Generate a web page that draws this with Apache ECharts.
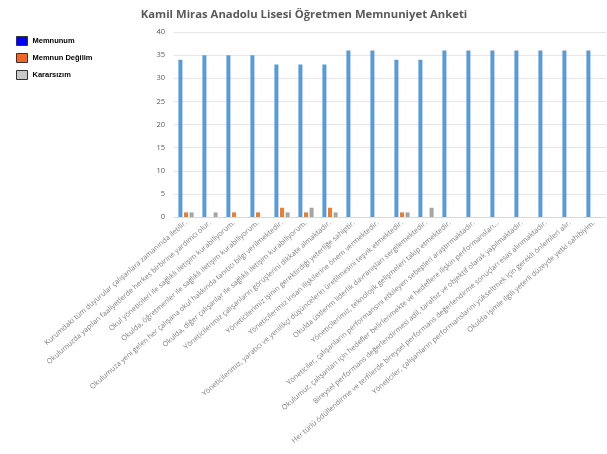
<!DOCTYPE html>
<html>
<head>
<meta charset="utf-8">
<script src="https://cdn.jsdelivr.net/npm/echarts@6/dist/echarts.min.js"></script>
<style>
html,body{margin:0;padding:0;background:#fff;}
#c{width:607px;height:454px;}
</style>
</head>
<body>
<div id="c"></div>
<script>
var categories = [
  "Kurumdaki tüm duyurular çalışanlara zamanında iletilir.",
  "Okulumuzda yapılan faaliyetlerde herkes birbirine yardımcı olur.",
  "Okul yöneticileri ile sağlıklı iletişim kurabiliyorum.",
  "Okulda, öğretmenler ile sağlıklı iletişim kurabiliyorum.",
  "Okulumuza yeni gelen her çalışana okul hakkında tanıtıcı bilgi verilmektedir.",
  "Okulda, diğer çalışanlar ile sağlıklı iletişim kurabiliyorum.",
  "Yöneticilerimiz çalışanların görüşlerini dikkate almaktadır.",
  "Yöneticilerimiz işinin gerektirdiği yeterliğe sahiptir.",
  "Yöneticilerimiz insan ilişkilerine önem vermektedir.",
  "Yöneticilerimiz, yaratıcı ve yenilikçi düşüncelerin üretilmesini teşvik etmektedir.",
  "Okulda üstlerim liderlik davranışları sergilemektedir.",
  "Yöneticilerimiz, teknolojik gelişmeleri takip etmektedir.",
  "Yöneticiler, çalışanların performansını etkileyen sebepleri araştırmaktadır.",
  "Okulumuz, çalışanları için hedefler belirlenmekte ve hedeflere ilişkin performansları...",
  "Bireysel performans değerlendirmesi adil, tarafsız ve objektif olarak yapılmaktadır.",
  "Her türlü ödüllendirme ve terfilerde bireysel performans değerlendirme sonuçları esas alınmaktadır.",
  "Yöneticiler, çalışanların performanslarını yükseltmek için gerekli önlemleri alır.",
  "Okulda işimle ilgili yeterli düzeyde yetki sahibiyim."
];
var memnunum     = [34,35,35,35,33,33,33,36,36,34,34,36,36,36,36,36,36,36];
var memnunDegil  = [1,0,1,1,2,1,2,0,0,1,0,0,0,0,0,0,0,0];
var kararsizim   = [1,1,0,0,1,2,1,0,0,1,2,0,0,0,0,0,0,0];
var seriesNames  = ["Memnunum","Memnun Değilim","Kararsızım"];
var chartTitle   = "Kamil Miras Anadolu Lisesi Öğretmen Memnuniyet Anketi";

var chart = echarts.init(document.getElementById('c'), null, {renderer:'canvas'});
chart.setOption({
  animation:false,
  backgroundColor:'#ffffff',
  title:{
    text:chartTitle,
    left:299, top:4, textAlign:'center',
    textStyle:{fontFamily:'Open Sans', fontWeight:'bold', fontSize:11.3, color:'#595959'}
  },
  legend:{
    orient:'vertical', left:11, top:31,
    itemWidth:11, itemHeight:9, itemGap:7,
    icon:'rect',
    textStyle:{fontFamily:'Liberation Sans', fontWeight:'bold', fontSize:7.5, color:'#000'},
    data:[
      {name:seriesNames[0], itemStyle:{color:'#0000FF', borderColor:'#333', borderWidth:1}},
      {name:seriesNames[1], itemStyle:{color:'#F26522', borderColor:'#333', borderWidth:1}},
      {name:seriesNames[2], itemStyle:{color:'#C8C8C8', borderColor:'#333', borderWidth:1}}
    ]
  },
  grid:{left:174, right:1, top:32, bottom:237, containLabel:false},
  xAxis:{
    type:'category', data:categories,
    axisLine:{show:true, lineStyle:{color:'#D9D9D9'}},
    axisTick:{show:false},
    axisLabel:{interval:0, rotate:41, fontSize:7.2, color:'#7F7F7F', fontFamily:'Open Sans', margin:5}
  },
  yAxis:{
    type:'value', min:0, max:40, interval:5,
    axisLine:{show:false}, axisTick:{show:false},
    axisLabel:{fontSize:7.5, color:'#595959', fontFamily:'Open Sans', margin:9},
    splitLine:{lineStyle:{color:'#E6E6E6'}}
  },
  series:[
    {name:seriesNames[0], type:'bar', data:memnunum, barWidth:4, barGap:'40%', itemStyle:{color:'#5B9BD5'}},
    {name:seriesNames[1], type:'bar', data:memnunDegil, barWidth:4, barGap:'40%', itemStyle:{color:'#ED7D31'}},
    {name:seriesNames[2], type:'bar', data:kararsizim, barWidth:4, barGap:'40%', itemStyle:{color:'#A5A5A5'}}
  ]
});
</script>
</body>
</html>
